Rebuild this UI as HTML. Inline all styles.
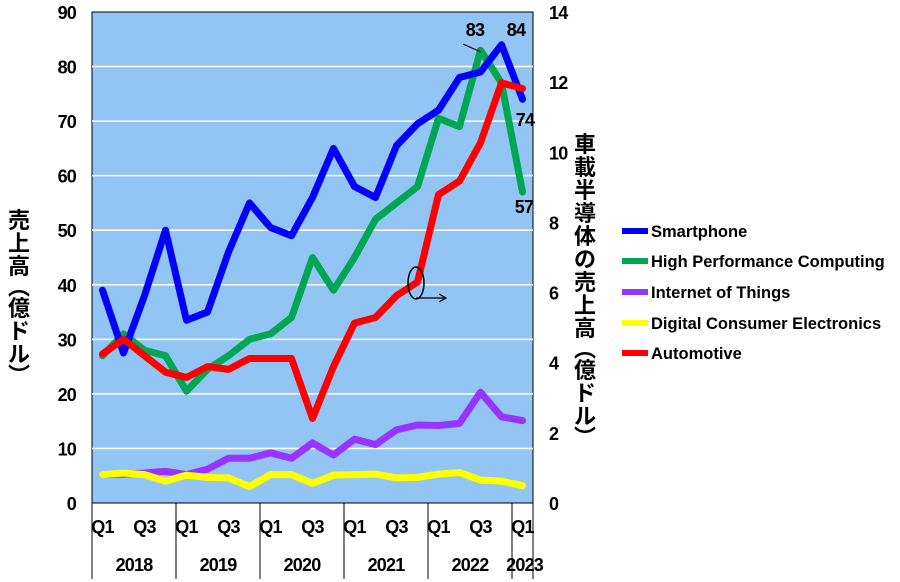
<!DOCTYPE html>
<html><head><meta charset="utf-8">
<style>
body{margin:0;background:#fff;}
svg{display:block;font-family:"Liberation Sans Narrow","Liberation Sans","Noto Sans CJK JP",sans-serif;}
.t{font-size:18px;font-weight:bold;fill:#000;letter-spacing:-0.8px;}
.lg{font-size:16.5px;font-weight:bold;fill:#000;}
.jp{font-family:"Liberation Sans","Noto Sans CJK JP",sans-serif;font-size:22px;font-weight:bold;fill:#000;}
</style></head>
<body>
<svg id="chart" width="900" height="582" viewBox="0 0 900 582">
<rect x="92" y="12" width="441" height="491" fill="#92c5f3" stroke="#000" stroke-width="1"/>
<g id="grid"></g>
<g id="axes"></g>
<g id="series"></g>
<g id="labels"></g>
<text class="t" x="475" y="36" text-anchor="middle">83</text>
<line x1="463" y1="44" x2="481" y2="52" stroke="#000" stroke-width="1"/>
<text class="t" x="516" y="36" text-anchor="middle">84</text>
<text class="t" x="525" y="126" text-anchor="middle">74</text>
<text class="t" x="524" y="213" text-anchor="middle">57</text>
<ellipse cx="416" cy="283" rx="8" ry="16" fill="none" stroke="#000" stroke-width="1.5"/>
<line x1="416" y1="298" x2="445" y2="298" stroke="#000" stroke-width="1.2"/>
<path d="M439,294 L446,298 L439,302" fill="none" stroke="#000" stroke-width="1.2"/>
<text class="jp" transform="translate(8,228)">
<tspan x="0" dy="0">売</tspan><tspan x="0" dy="23">上</tspan><tspan x="0" dy="23">高</tspan><tspan x="0" dy="21">︵</tspan><tspan x="0" dy="21">億</tspan><tspan x="0" dy="23">ド</tspan><tspan x="0" dy="23">ル</tspan><tspan x="0" dy="21">︶</tspan></text>
<text class="jp" transform="translate(574,152)">
<tspan x="0" dy="0">車</tspan><tspan x="0" dy="23">載</tspan><tspan x="0" dy="23">半</tspan><tspan x="0" dy="23">導</tspan><tspan x="0" dy="23">体</tspan><tspan x="0" dy="23">の</tspan><tspan x="0" dy="23">売</tspan><tspan x="0" dy="23">上</tspan><tspan x="0" dy="23">高</tspan><tspan x="0" dy="21">︵</tspan><tspan x="0" dy="21">億</tspan><tspan x="0" dy="23">ド</tspan><tspan x="0" dy="23">ル</tspan><tspan x="0" dy="21">︶</tspan></text>
<g id="legend"></g>
</svg>
<script>
const quarters = ["Q1","Q2","Q3","Q4","Q1","Q2","Q3","Q4","Q1","Q2","Q3","Q4","Q1","Q2","Q3","Q4","Q1","Q2","Q3","Q4","Q1"];
const years = ["2018","2019","2020","2021","2022","2023"];
const leftTicks = [0,10,20,30,40,50,60,70,80,90];
const rightTicks = [0,2,4,6,8,10,12,14];
const smartphone = [39,27.5,38,50,33.5,35,46,55,50.5,49,56,65,58,56,65.5,69.5,72,78,79,84,74];
const hpc = [27,31,28,27,20.5,24.5,27,30,31,34,45,39,45,52,55,58,70.5,69,83,77,57];
const iot = [5.2,5.3,5.5,5.8,5.2,6.2,8.2,8.2,9.2,8.2,11,8.8,11.7,10.7,13.4,14.3,14.2,14.6,20.3,15.8,15.1];
const dce = [5.2,5.5,5.2,4,5.1,4.7,4.6,3,5.2,5.2,3.6,5.1,5.2,5.3,4.6,4.7,5.3,5.6,4.2,4,3.2];
const automotive = [4.25,4.67,4.2,3.73,3.58,3.89,3.81,4.12,4.12,4.12,2.41,3.89,5.13,5.29,5.91,6.3,8.79,9.18,10.27,11.98,11.82];
const seriesNames = ["Smartphone","High Performance Computing","Internet of Things","Digital Consumer Electronics","Automotive"];

const NS="http://www.w3.org/2000/svg";
const X0=92,X1=533,Y0=503,Y1=12;
const step=(X1-X0)/21;
function x(i){return X0+step*(i+0.5);}
function yL(v){return Y0-(v/90)*(Y0-Y1);}
function yR(v){return Y0-(v/14)*(Y0-Y1);}
function mk(tag,attrs,parent){const e=document.createElementNS(NS,tag);for(const k in attrs)e.setAttribute(k,attrs[k]);parent.appendChild(e);return e;}
const grid=document.getElementById('grid'),axes=document.getElementById('axes'),ser=document.getElementById('series'),leg=document.getElementById('legend');
leftTicks.forEach(v=>{
  if(v>0&&v<90){const l=mk('line',{x1:X0,x2:X1,y1:yL(v),y2:yL(v),stroke:'#fff','stroke-width':1.5},grid);
  
  }
  const t=mk('text',{x:76,y:yL(v)+7,'text-anchor':'end',class:'t'},axes);t.textContent=v;
  
  
});
rightTicks.forEach(v=>{
  const t=mk('text',{x:549,y:yR(v)+7,class:'t'},axes);t.textContent=v;
  
  
});
quarters.forEach((q,i)=>{
  if(q==="Q1"||q==="Q3"){const t=mk('text',{x:x(i),y:533,'text-anchor':'middle',class:'t'},axes);t.textContent=q;
  
  }
});
years.forEach((yr,k)=>{
  const s=k*4,e=Math.min(s+4,21);
  const l=mk('line',{x1:X0+step*s,x2:X0+step*s,y1:Y0,y2:579,stroke:'#000','stroke-width':1},axes);
  
  
  const cx=k===5?X0+step*20.6:X0+step*(s+e)/2;
  const t=mk('text',{x:cx,y:571,'text-anchor':'middle',class:'t'},axes);t.textContent=yr;
  
  
});
const endL=mk('line',{x1:X1,x2:X1,y1:Y0,y2:579,stroke:'#000','stroke-width':1},axes);


const defs=[[dce,'#ffff00',yL,'line-digital-consumer-electronics'],[iot,'#9933ff',yL,'line-internet-of-things'],[hpc,'#00a651',yL,'line-hpc'],[automotive,'#ff0000',yR,'line-automotive'],[smartphone,'#0000ff',yL,'line-smartphone']];
const order=[1,0,2,4,3];
order.forEach(j=>{const [d,c,f,n]=defs[j];
  const p=mk('polyline',{points:d.map((v,i)=>x(i)+','+f(v)).join(' '),fill:'none',stroke:c,'stroke-width':7,'stroke-linejoin':'round','stroke-linecap':'round'},ser);
  
  
});
const legColors=['#0000ff','#00a651','#9933ff','#ffff00','#ff0000'];
const legY=[231,261,292,323,353];
seriesNames.forEach((n,i)=>{
  const g=mk('g',{},leg);
  
  
  mk('line',{x1:622,x2:648,y1:legY[i],y2:legY[i],stroke:legColors[i],'stroke-width':6},g);
  const t=mk('text',{x:651,y:legY[i]+6,class:'lg'},g);t.textContent=n;
});
</script>
</body></html>
